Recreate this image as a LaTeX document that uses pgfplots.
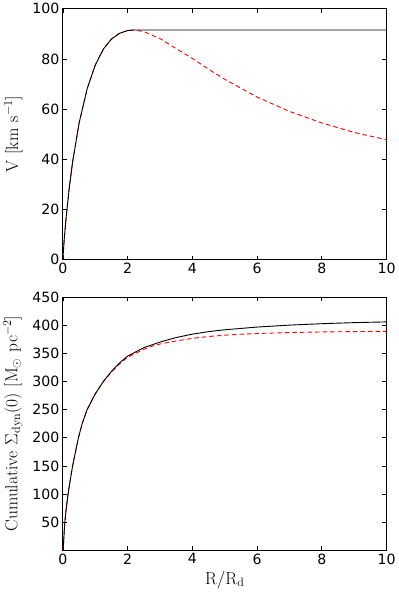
\documentclass[border=0pt]{standalone}
\usepackage[no-math]{fontspec}
\setmainfont{DejaVu Sans}
\usepackage{pgfplots}
\pgfplotsset{compat=1.18}

\pgfplotsset{
  panel/.style={
    scale only axis,
    width=321pt,
    xmin=0, xmax=10,
    xtick={0,2,4,6,8,10},
    tick align=inside,
    xtick pos=both, ytick pos=both,
    major tick length=4pt,
    minor tick num=0,
    axis line style={line width=0.8pt},
    tick style={line width=0.6pt, black},
    /pgf/number format/assume math mode=true,
    ticklabel style={font=\fontsize{14}{16}\selectfont},
    label style={font=\fontsize{18.5}{21}\selectfont},
    ylabel shift=3pt,
  },
  redline/.style={red, line width=0.9pt, dash pattern=on 4.5pt off 3pt},
  blackline/.style={black, line width=0.9pt},
}

\begin{document}
\begin{tikzpicture}
\begin{axis}[panel, at={(0,288pt)}, height=249pt,
  ymin=0, ymax=100, ytick={0,20,40,60,80,100},
  ylabel={$\mathrm{V\ [km\ s^{-1}]}$}]
\addplot[redline] coordinates {
(0,0) (0.005,1.2) (0.02,4.3) (0.05,9.5) (0.1,16.8) (0.2,29.0) (0.3,38.9)
(0.5,54.4) (0.75,68.1) (1,77.5) (1.25,83.9) (1.5,87.9) (1.75,90.2)
(2,91.3) (2.2,91.5) (2.5,90.9) (3,88.1) (3.5,84.1) (4,80.2) (4.5,75.9)
(5,71.9) (6,64.8) (7,59.1) (8,54.5) (9,50.7) (10,47.8)
};
\addplot[blackline] coordinates {
(0,0) (0.005,1.2) (0.02,4.3) (0.05,9.5) (0.1,16.8) (0.2,29.0) (0.3,38.9)
(0.5,54.4) (0.75,68.1) (1,77.5) (1.25,83.9) (1.5,87.9) (1.75,90.2)
(2,91.3) (2.15,91.5) (10,91.5)
};
\end{axis}

\begin{axis}[panel, at={(0,0)}, height=251pt,
  ymin=0.5, ymax=450, ytick={50,100,...,450},
  xlabel={$\mathrm{R/R_d}$},
  ylabel={$\mathrm{Cumulative}\ \Sigma_{\mathrm{dyn}}(0)\ [\mathrm{M_\odot\ pc^{-2}}]$}]
\addplot[redline] coordinates {
(0,0.5) (0.01,7) (0.02,12) (0.04,33) (0.06,50) (0.1,73) (0.16,100)
(0.22,122) (0.3,150) (0.4,178) (0.48,200) (0.6,226) (0.75,250) (1.0,278)
(1.25,299.5) (1.5,316.5) (1.75,331) (2.0,343) (2.5,357) (2.75,362.5)
(3.0,366.5) (3.5,372) (4,376.5) (4.5,379.8) (5,382.2) (5.5,383.9)
(6,385.2) (7,386.9) (8,387.9) (9,388.6) (10,389.0)
};
\addplot[blackline] coordinates {
(0,0.5) (0.01,7) (0.02,12) (0.04,33) (0.06,50) (0.1,73) (0.16,100)
(0.22,122) (0.3,150) (0.4,178) (0.48,200) (0.6,226) (0.75,250) (1.0,278)
(1.25,300) (1.5,318) (1.75,333) (2.0,345) (2.5,360) (2.75,365) (3.0,370)
(3.5,378) (4,384) (4.5,388.5) (5,391.8) (6,396.6) (7,400.1) (8,402.6)
(9,404.5) (10,405.8)
};
\end{axis}
\end{tikzpicture}
\end{document}
